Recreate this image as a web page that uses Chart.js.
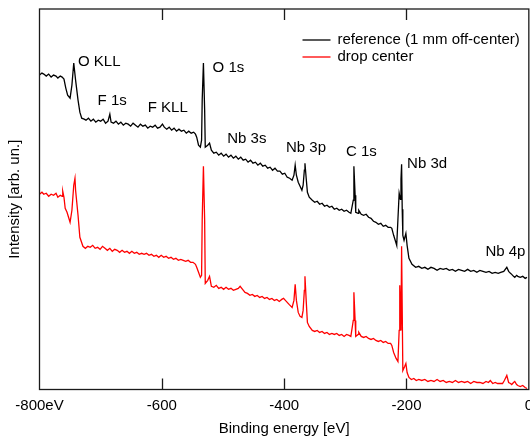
<!DOCTYPE html>
<html>
<head>
<meta charset="utf-8">
<script src="https://cdn.jsdelivr.net/npm/chart.js@4"></script>
<style>
  html, body { margin: 0; padding: 0; overflow: hidden; background: #fff; }
  #wrap { width: 540px; height: 437px; }
</style>
</head>
<body>
<div id="wrap"><canvas id="xps"></canvas></div>
<script>
// Binding energy (eV) and intensity (arb. un.)
const refEnergy = [
  -800,-796,-793,-789,-785,-781,-777,-773,-770,-766,-763,-760,
  -757,-754,-750,-747,-744,-741,-737,-734,-731,
  -727,-724,-720,-716,-712,-708,-704,-700,-696,-692,-688,-685,-683,-679,-675,-671,-667,-663,-659,-655,
  -651,-647,-643,-639,-635,-631,-627,-623,-619,-615,-611,-607,-603,-599,-596,-592,-588,-584,-580,-576,
  -572,-568,-564,-560,-556,-552,-548,-545,
  -543,-540,-537,-535,-534,-532,-530,
  -529,-525,-522,-519,-515,-511,-507,-503,-499,-495,-491,-487,-483,-479,-475,-471,-467,-463,-459,-455,
  -451,-447,-443,-439,-435,-431,-427,-423,-419,-415,-411,-407,-403,-399,-395,-391,-387,
  -384,-382,-380,-377,-374,-371,-369,-367,-366,-364,-362,-359,
  -354,-350,-346,-342,-338,-334,-330,-326,-322,-318,-314,-310,-306,-302,-298,-294,-291,
  -287,-286,-284,-283,-279,-278,
  -274,-270,-266,-262,-258,-254,-250,-246,-242,-238,-234,-230,-226,-224,
  -221,-217,-216,-214,-212,-210,-209,-208,-207,-206,-204,-201,-199,-196,
  -191,-185,-180,-175,-170,-165,-160,-155,-150,-145,-140,-135,-130,-125,-120,-115,-110,-105,-100,-95,
  -90,-85,-80,-75,-70,-65,-60,-55,-50,-46,-41,-36,-33,-30,-28,-25,-23,-20,-18,-14,-10,-6,-3
];
const refIntensity = [
  314,316,315,313,315,312,314,313,311,313,312,310,
  301,294,291,304,326,309,289,277,271,
  270,269,271,268,270,267,269,268,270,266,268,275,267,266,268,265,267,264,266,265,
  263,266,264,262,265,263,264,261,263,262,264,261,262,265,262,260,262,259,261,258,
  260,258,259,256,258,256,257,255,
  252,244,242,249,289,326,279,
  242,244,246,239,236,237,234,236,233,235,232,234,231,233,230,232,229,230,227,229,
  226,227,224,226,223,224,221,222,219,221,218,218,215,216,212,211,209,
  214,224,214,207,203,199,204,219,226,211,197,192,
  189,187,188,185,186,183,184,182,183,180,181,179,180,178,179,177,176,
  189,223,194,177,176,179,
  175,174,175,172,171,168,167,165,166,163,164,162,162,161,
  154,146,144,170,196,190,210,225,180,154,149,156,144,131,
  125,122,123,121,122,120,122,121,119,121,120,121,119,120,118,120,119,118,120,118,
  119,117,119,118,117,118,116,117,116,117,118,122,118,116,115,113,112,114,113,112,113,111,112
];

const dropEnergy = [
  -800,-796,-793,-789,-785,-781,-777,-773,-770,-766,-763,-762,-760,
  -758,-755,-752,-750,-747,-744,-742,-741,-737,-734,-729,
  -725,-721,-717,-713,-709,-705,-701,-697,-693,-689,-685,-681,-677,-673,-669,-665,-661,-657,-653,-649,
  -645,-641,-637,-633,-629,-625,-621,-617,-613,-609,-605,-601,-597,-593,-589,-585,-581,-577,-573,-569,
  -565,-561,-557,-553,-549,-545,
  -543,-540,-537,-535,-534,-532,-530,
  -529,-525,-522,-519,-515,-511,-507,-503,-499,-495,-491,-487,-483,-479,-475,-472,-468,-464,-460,-456,
  -452,-448,-444,-440,-436,-432,-428,-424,-420,-416,-412,-408,-404,-401,-398,-392,-387,
  -384,-382,-380,-377,-374,-371,-369,-367,-366,-364,-362,-359,
  -354,-350,-346,-342,-338,-334,-330,-326,-322,-318,-314,-310,-306,-302,-298,-294,-291,
  -287,-286,-284,-283,-279,-278,
  -274,-270,-266,-262,-258,-254,-250,-246,-242,-238,-234,-230,-226,-224,
  -221,-217,-214,-212,-211,-209,-208,-206,-203,-201,-199,
  -196,-192,-188,-184,-180,-175,-170,-165,-160,-155,-150,-145,-140,-135,-130,-125,-120,-115,-110,-105,
  -100,-95,-90,-85,-80,-75,-70,-66,-63,-59,-55,-51,-47,-43,-40,-36,-33,-30,-28,-25,-23,-20,-18,-14,-10,-6,-3
];
const dropIntensity = [
  195,197,195,196,193,195,194,196,192,194,193,198,192,
  181,177,171,167,179,204,211,199,174,152,143,
  141,143,142,144,141,142,140,143,141,139,141,138,140,139,137,139,137,138,136,138,
  136,137,135,136,135,136,134,135,133,134,132,134,132,133,131,132,130,131,129,130,
  129,128,129,127,127,125,
  122,117,112,114,169,223,169,
  106,109,113,103,102,104,101,102,100,102,100,101,99,100,101,103,100,97,96,94,
  95,93,94,92,93,91,92,90,91,89,90,88,90,91,89,85,82,
  89,105,89,77,73,72,79,99,113,89,67,63,
  59,58,59,57,58,56,57,55,56,55,56,54,55,53,55,54,53,
  69,97,69,53,55,57,
  53,52,53,51,50,51,49,48,49,47,48,46,46,44,
  37,31,28,59,104,59,143,19,23,26,17,
  12,10,11,9,10,9,10,8,9,8,10,8,9,7,8,7,9,7,8,7,
  8,6,8,7,7,6,8,7,9,6,7,6,6,6,9,14,7,6,5,7,8,5,4,3,4,2,1
];

const seriesNames = ["reference (1 mm off-center)", "drop center"];
const seriesColors = ["#000000", "#ff0000"];

const xTicks = [-800, -600, -400, -200, 0];

// peak labels: text, energy and intensity of the label's left/middle anchor
const peakNames = ["O KLL", "F 1s", "F KLL", "O 1s", "Nb 3s", "Nb 3p", "C 1s", "Nb 3d", "Nb 4p"];
const peakEnergy = [-737, -705, -623, -517, -493, -397, -299, -199, -71];
const peakLevel = [327, 288, 281, 321, 250, 241, 237, 225, 137];

const FONT = "'Liberation Sans', Arial, sans-serif";

function toPoints(xs, ys) {
  return xs.map((x, i) => ({ x: x, y: ys[i] }));
}

const decorations = {
  id: "decorations",
  afterDraw(chart) {
    const ctx = chart.ctx;
    const a = chart.chartArea;
    const xs = chart.scales.x;
    const ys = chart.scales.y;
    ctx.save();
    // frame
    ctx.strokeStyle = "#1a1a1a";
    ctx.lineWidth = 1.3;
    ctx.strokeRect(a.left, a.top, a.right - a.left, a.bottom - a.top);
    // inward ticks top and bottom
    xTicks.forEach((t) => {
      if (t === xTicks[0] || t === xTicks[xTicks.length - 1]) return;
      const px = Math.round(xs.getPixelForValue(t)) + 0.5;
      ctx.beginPath();
      ctx.moveTo(px, a.bottom);
      ctx.lineTo(px, a.bottom - 11);
      ctx.moveTo(px, a.top);
      ctx.lineTo(px, a.top + 11);
      ctx.stroke();
    });
    // peak labels
    ctx.fillStyle = "#000";
    ctx.font = "15px " + FONT;
    ctx.textBaseline = "middle";
    ctx.textAlign = "left";
    peakNames.forEach((name, i) => {
      ctx.fillText(name, xs.getPixelForValue(peakEnergy[i]), ys.getPixelForValue(peakLevel[i]));
    });
    // legend
    const lx = a.left + 263;
    seriesNames.forEach((name, i) => {
      const ly = a.top + 31 + i * 17;
      ctx.strokeStyle = seriesColors[i];
      ctx.lineWidth = 1.3;
      ctx.beginPath();
      ctx.moveTo(lx, ly);
      ctx.lineTo(lx + 28, ly);
      ctx.stroke();
      ctx.fillText(name, lx + 35, ly);
    });
    ctx.restore();
  }
};

new Chart(document.getElementById("xps"), {
  type: "scatter",
  data: {
    datasets: [
      {
        label: seriesNames[0],
        data: toPoints(refEnergy, refIntensity),
        showLine: true,
        borderColor: seriesColors[0],
        backgroundColor: seriesColors[0],
        borderWidth: 1.3,
        pointRadius: 0,
        tension: 0,
      },
      {
        label: seriesNames[1],
        data: toPoints(dropEnergy, dropIntensity),
        showLine: true,
        borderColor: seriesColors[1],
        backgroundColor: seriesColors[1],
        borderWidth: 1.3,
        pointRadius: 0,
        tension: 0,
      },
    ],
  },
  options: {
    responsive: true,
    maintainAspectRatio: false,
    animation: false,
    layout: { padding: { top: 9, left: 0, right: 0, bottom: 0 } },
    scales: {
      x: {
        type: "linear",
        min: -800,
        max: 0,
        afterBuildTicks: (scale) => {
          scale.ticks = xTicks.map((v) => ({ value: v }));
        },
        afterFit: (scale) => {
          scale.height = 47.5;
        },
        grid: { display: false, drawTicks: false },
        border: { display: false },
        ticks: {
          color: "#000",
          padding: 7,
          font: { family: FONT, size: 15 },
          maxRotation: 0,
          autoSkip: false,
          callback: function (val) {
            return val === -800 ? "-800eV" : String(val);
          },
        },
        title: {
          display: true,
          text: "Binding energy [eV]",
          color: "#000",
          font: { family: FONT, size: 15, lineHeight: 1.1 },
          padding: { top: 0, bottom: 0 },
        },
      },
      y: {
        min: 0,
        max: 380,
        afterFit: (scale) => {
          scale.width = 39.5;
        },
        grid: { display: false },
        border: { display: false },
        ticks: { display: false },
        title: {
          display: true,
          text: "Intensity [arb. un.]",
          color: "#000",
          font: { family: FONT, size: 15 },
          padding: { top: 6, bottom: 0 },
        },
      },
    },
    plugins: {
      legend: { display: false },
      tooltip: { enabled: false },
    },
  },
  plugins: [decorations],
});
</script>
</body>
</html>
